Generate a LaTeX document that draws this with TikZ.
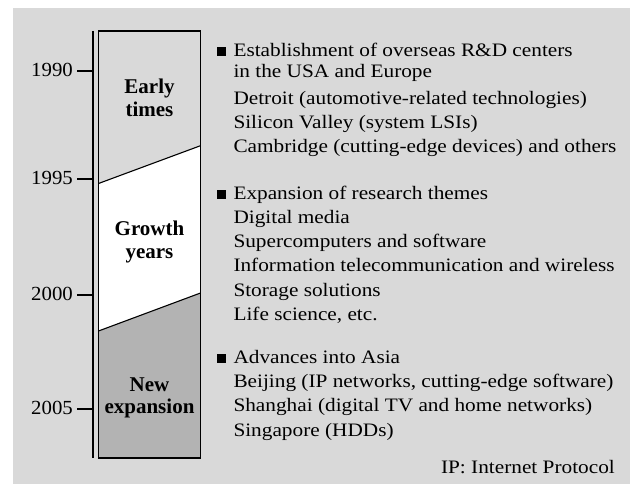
\documentclass[tikz,border=0pt]{standalone}
\usepackage{fontspec}
\setmainfont{Liberation Serif}
\newfontfamily\bodyfont[FakeStretch=1.12]{Liberation Serif}
\newfontfamily\yearfont[FakeStretch=1.04]{Liberation Serif}
\definecolor{panel}{HTML}{D9D9D9}
\definecolor{darkband}{HTML}{B3B3B3}
\begin{document}
\begin{tikzpicture}[x=1pt,y=-1pt,
  body/.style={anchor=base west, inner sep=0pt, font=\bodyfont\fontsize{19}{21}\selectfont},
  yearlbl/.style={anchor=base east, inner sep=0pt, font=\yearfont\fontsize{20}{22}\selectfont},
  era/.style={anchor=base, inner sep=0pt, font=\bfseries\fontsize{21}{23}\selectfont},
  bulletbox/.style={fill=black, draw=none},
  tickline/.style={line width=2pt}]
\useasboundingbox (0,0) rectangle (630,484);
\fill[white] (0,0) rectangle (630,484);
\fill[panel] (13,8) rectangle (630,484);
% timeline column
\fill[panel] (98.5,31) -- (200.5,31) -- (200.5,145.7) -- (98.5,183.5) -- cycle;
\fill[white] (98.5,183.5) -- (200.5,145.7) -- (200.5,293) -- (98.5,331) -- cycle;
\fill[darkband] (98.5,331) -- (200.5,293) -- (200.5,458) -- (98.5,458) -- cycle;
\draw[line width=1.1pt] (98.5,183.5) -- (200.5,145.7);
\draw[line width=1.1pt] (98.5,331) -- (200.5,293);
\draw[line width=1.2pt] (98.5,31) rectangle (200.5,458);
\draw[tickline] (93,31) -- (93,458);
% ticks and years
\foreach \yy/\lbl in {71/1990,179/1995,295/2000,409/2005}{
  \draw[tickline] (77,\yy) -- (93,\yy);
  \node[yearlbl] (y\lbl) at (73,\yy+5.5) {\lbl};
}
% era labels
\node[era] (e1a) at (149.5,94) {Early};
\node[era] (e1b) at (149.5,117) {times};
\node[era] (e2a) at (149.5,235.7) {Growth};
\node[era] (e2b) at (149.5,258.5) {years};
\node[era] (e3a) at (149.5,391.7) {New};
\node[era] (e3b) at (149.5,413.5) {expansion};
% bullets
\foreach \bb in {56.7,199.3,363.3}{
  \fill (217.3,\bb-9.4) rectangle (226.2,\bb-0.6);
}
% block 1
\node[body] (t11) at (233.3,56.7) {Establishment of overseas R\&D centers};
\node[body] (t12) at (233.3,77.3) {in the USA and Europe};
\node[body] (t13) at (233.3,104.3) {Detroit (automotive-related technologies)};
\node[body] (t14) at (233.3,128.3) {Silicon Valley (system LSIs)};
\node[body] (t15) at (233.3,152.3) {Cambridge (cutting-edge devices) and others};
% block 2
\node[body] (t21) at (233.3,199.3) {Expansion of research themes};
\node[body] (t22) at (233.3,223.3) {Digital media};
\node[body] (t23) at (233.3,247.7) {Supercomputers and software};
\node[body] (t24) at (233.3,271.7) {Information telecommunication and wireless};
\node[body] (t25) at (233.3,296) {Storage solutions};
\node[body] (t26) at (233.3,320) {Life science, etc.};
% block 3
\node[body] (t31) at (233.3,363.3) {Advances into Asia};
\node[body] (t32) at (233.3,387) {Beijing (IP networks, cutting-edge software)};
\node[body] (t33) at (233.3,411.7) {Shanghai (digital TV and home networks)};
\node[body] (t34) at (233.3,436) {Singapore (HDDs)};
\node[body, anchor=base east] (note) at (615,473.3) {IP: Internet Protocol};
\end{tikzpicture}
\end{document}
